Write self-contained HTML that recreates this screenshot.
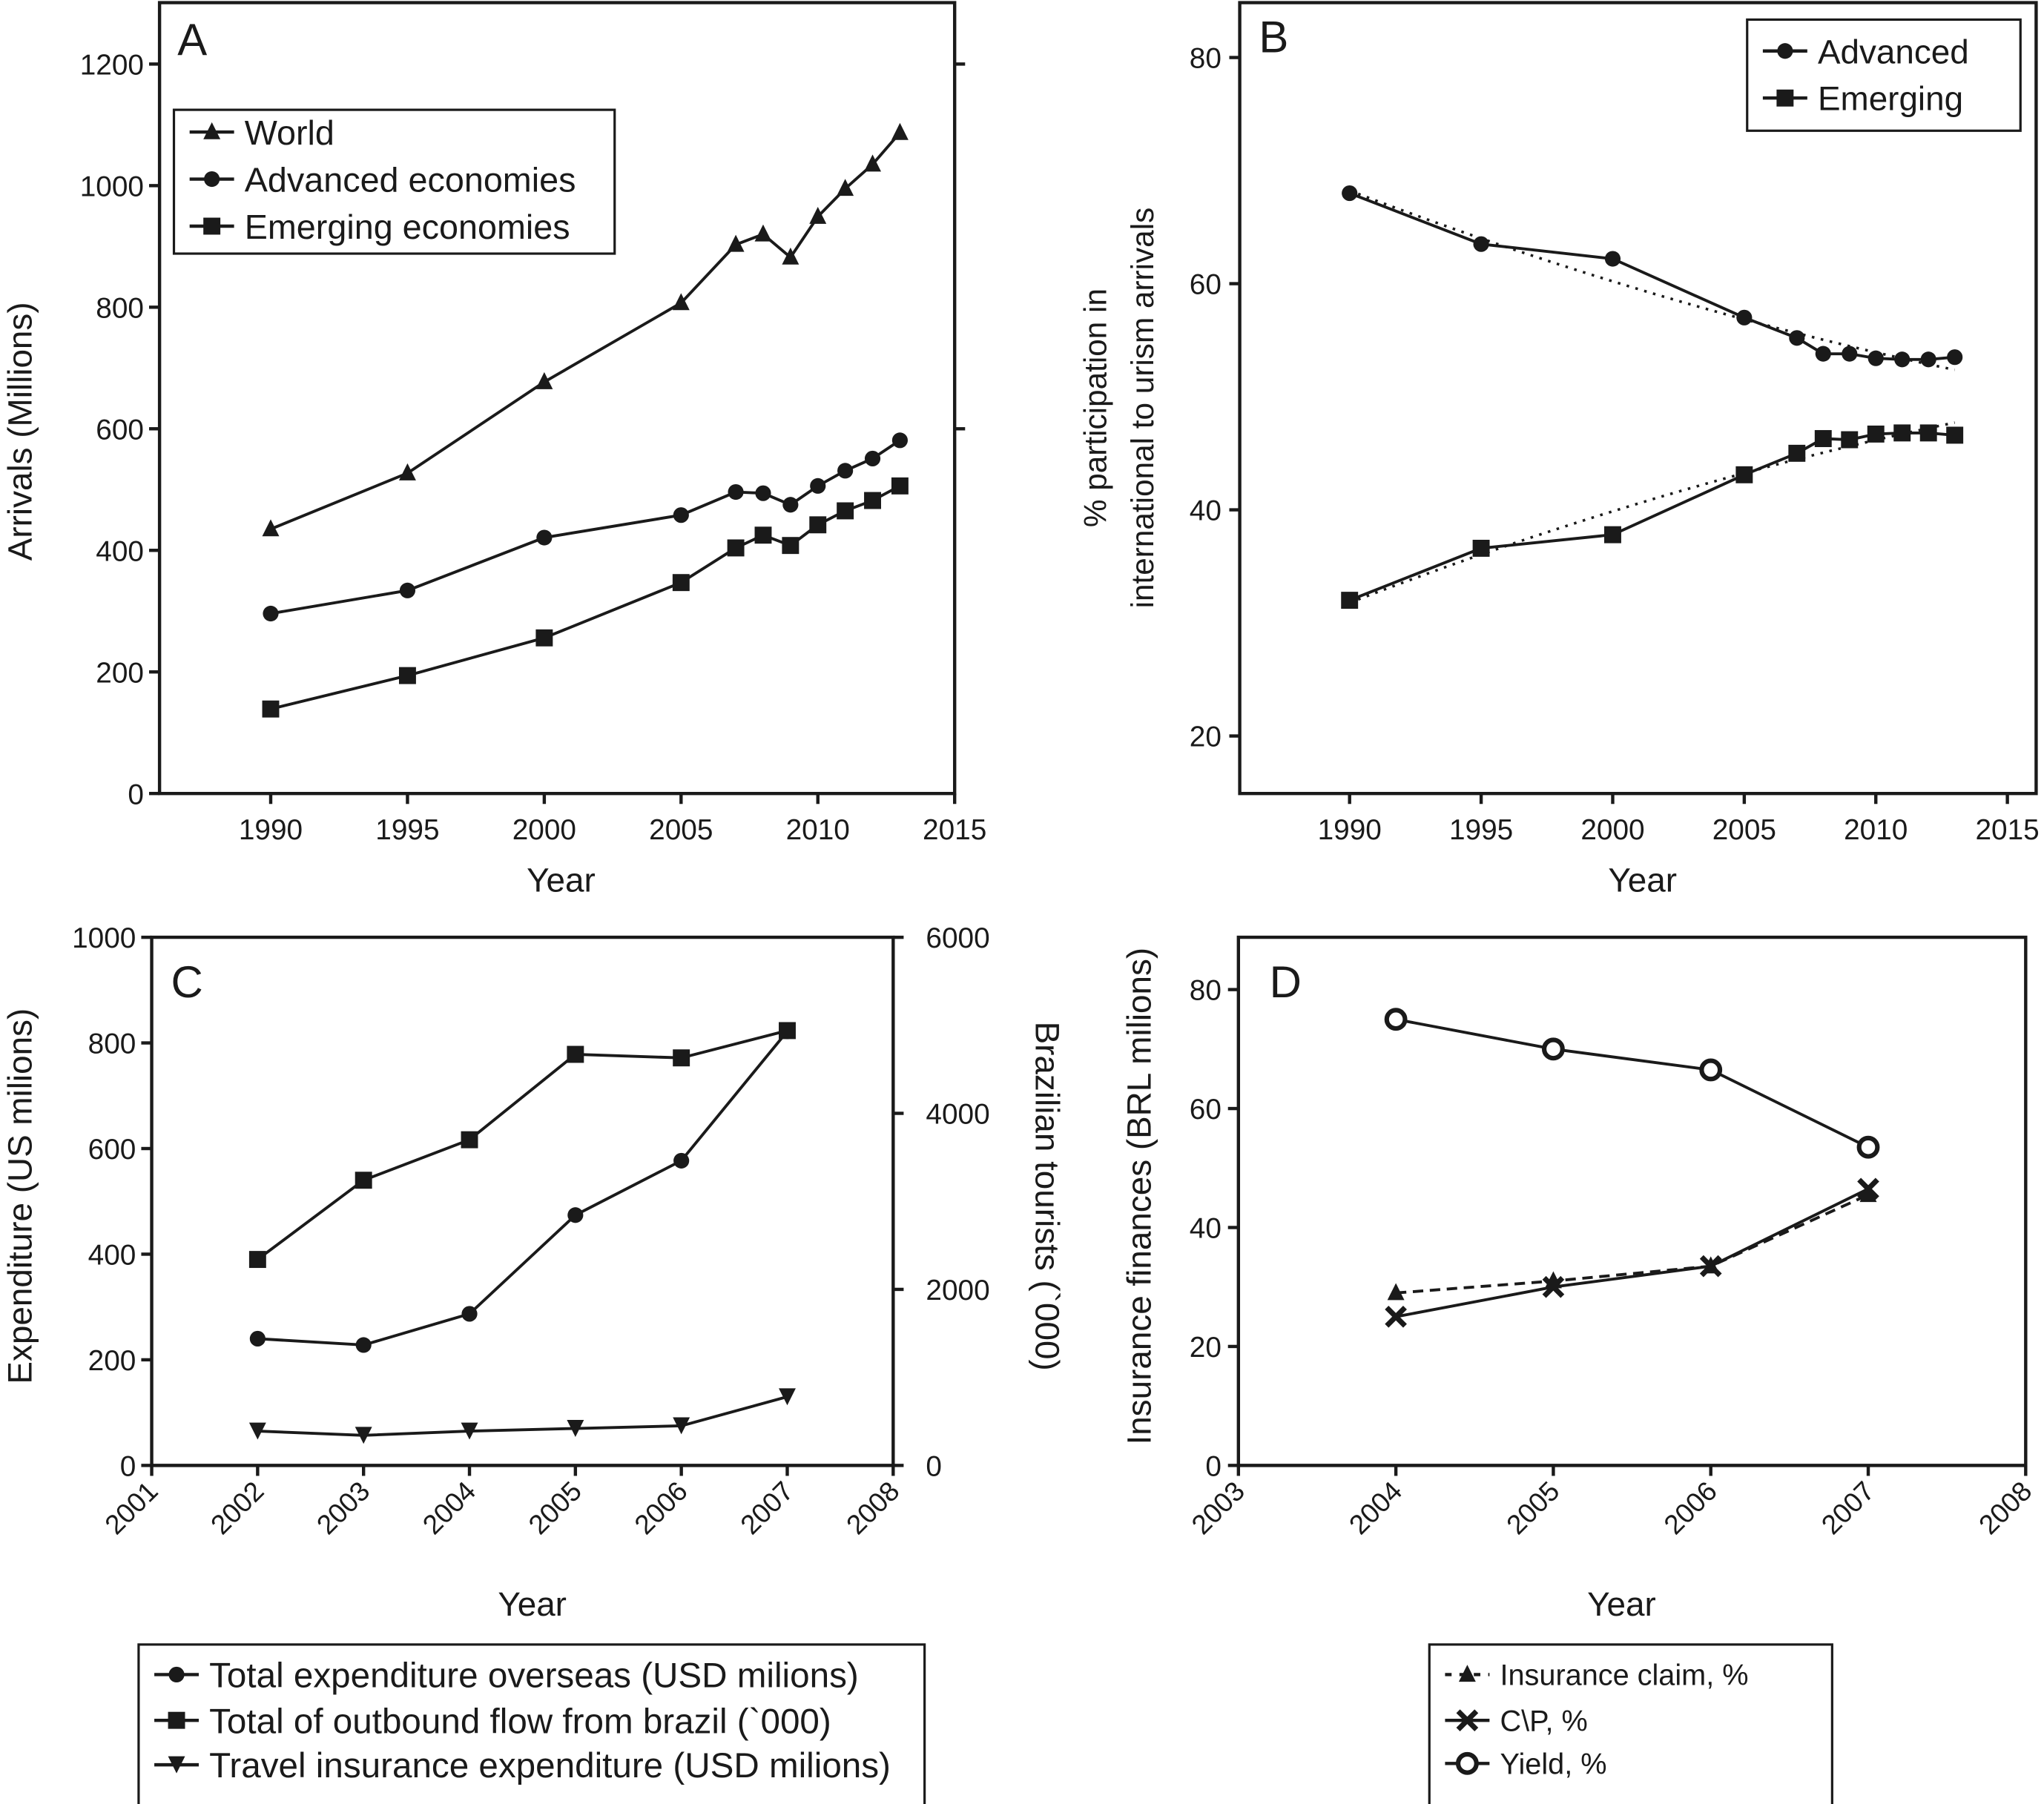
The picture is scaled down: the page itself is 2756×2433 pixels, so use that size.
<!DOCTYPE html>
<html><head><meta charset="utf-8"><style>
html,body{margin:0;padding:0;background:#fff;}
svg{display:block;font-family:"Liberation Sans",sans-serif;}
</style></head><body>
<svg id="fig" width="2756" height="2433" viewBox="0 0 1563 1380" preserveAspectRatio="none" xmlns="http://www.w3.org/2000/svg">
<g id="root" fill="none" stroke="#1a1a1a"></g>
</svg>
<script>
// Panel A data
const yearsA=[1990,1995,2000,2005,2007,2008,2009,2010,2011,2012,2013];
const worldA=[435,527,677,807,903,920,882,949,995,1035,1087];
const advA=[296,334,421,458,496,494,475,506,531,551,581];
const emgA=[139,194,256,347,404,425,408,442,465,482,506];
const ticksAy=[0,200,400,600,800,1000,1200];
const ticksAx=[1990,1995,2000,2005,2010,2015];
// Panel B data
const advB=[68,63.5,62.2,57,55.2,53.8,53.8,53.4,53.3,53.3,53.5];
const emgB=[32,36.6,37.8,43.1,45,46.3,46.2,46.7,46.8,46.8,46.6];
const ticksBy=[20,40,60,80];
// Panel C data
const yearsC=[2002,2003,2004,2005,2006,2007];
const expC=[240,228,287,474,577,822];
const flowC=[2340,3240,3700,4670,4630,4940];
const insC=[65,57,65,70,75,130];
const ticksCy=[0,200,400,600,800,1000];
const ticksCy2=[0,2000,4000,6000];
const ticksCx=[2001,2002,2003,2004,2005,2006,2007,2008];
// Panel D data
const yearsD=[2004,2005,2006,2007];
const claimD=[29,31,33.5,45.5];
const cpD=[25,30,33.5,46.5];
const yieldD=[75,70,66.5,53.5];
const ticksDy=[0,20,40,60,80];
const ticksDx=[2003,2004,2005,2006,2007,2008];

const NS="http://www.w3.org/2000/svg";
const root=document.getElementById('root');
function el(tag,attrs,parent,name){const e=document.createElementNS(NS,tag);for(const k in attrs)e.setAttribute(k,attrs[k]);


(parent||root).appendChild(e);return e;}
function txt(x,y,s,size,anchor,parent,name,rot){const t=el('text',{x:x,y:y,'font-size':size,'text-anchor':anchor||'middle',fill:'#1a1a1a',stroke:'none'},parent,name);
if(rot!==undefined)t.setAttribute('transform','rotate('+rot+' '+x+' '+y+')');t.textContent=s;return t;}
function lin(d0,d1,r0,r1){return v=>r0+(v-d0)*(r1-r0)/(d1-d0);}
function marker(type,x,y,g,name){
  const s=6.5;
  if(type==='tri')el('polygon',{points:`${x},${y-s-1} ${x-s},${y+s-1} ${x+s},${y+s-1}`,fill:'#1a1a1a',stroke:'none'},g,name);
  else if(type==='tridown')el('polygon',{points:`${x},${y+s} ${x-s},${y-s} ${x+s},${y-s}`,fill:'#1a1a1a',stroke:'none'},g,name);
  else if(type==='circ')el('circle',{cx:x,cy:y,r:6,fill:'#1a1a1a',stroke:'none'},g,name);
  else if(type==='sq')el('rect',{x:x-6.5,y:y-6.5,width:13,height:13,fill:'#1a1a1a',stroke:'none'},g,name);
  else if(type==='ring')el('circle',{cx:x,cy:y,r:7,fill:'#fff',stroke:'#1a1a1a','stroke-width':3.5},g,name);
  else if(type==='x'){el('path',{d:`M${x-7},${y-7}L${x+7},${y+7}M${x+7},${y-7}L${x-7},${y+7}`,stroke:'#1a1a1a','stroke-width':4},g,name);}
}
function series(xs,ys,sx,sy,type,name,dash){
  const g=el('g',{},root,name);
  el('polyline',{points:xs.map((x,i)=>sx(x)+','+sy(ys[i])).join(' '),stroke:'#1a1a1a','stroke-width':2.2,'stroke-dasharray':dash||'none'},g,name+'-line');
  xs.forEach((x,i)=>marker(type,sx(x),sy(ys[i]),g,name+'-point'));
}
function legend(x,y,w,h,items,size,name){
  const g=el('g',{},root,name);
  el('rect',{x:x,y:y,width:w,height:h,stroke:'#1a1a1a','stroke-width':1.8,fill:'#fff'},g,name+'-box');
  items.forEach((it,i)=>{const cy=it.y;
    el('line',{x1:x+12,y1:cy,x2:x+46,y2:cy,stroke:'#1a1a1a','stroke-width':2.5,'stroke-dasharray':it.dash||'none'},g,'legend-line');
    marker(it.m,x+29,cy,g,'legend-marker');
    txt(x+54,cy+size*0.36,it.t,size,'start',g,'legend-entry');});
}
function quadFit(xs,ys){
  const n=xs.length;const m=xs.reduce((a,b)=>a+b)/n;const u=xs.map(x=>x-m);
  let S=[0,0,0,0,0],T=[0,0,0];
  u.forEach((x,i)=>{for(let k=0;k<5;k++)S[k]+=Math.pow(x,k);for(let k=0;k<3;k++)T[k]+=ys[i]*Math.pow(x,k);});
  const A=[[S[0],S[1],S[2]],[S[1],S[2],S[3]],[S[2],S[3],S[4]]];
  const det=M=>M[0][0]*(M[1][1]*M[2][2]-M[1][2]*M[2][1])-M[0][1]*(M[1][0]*M[2][2]-M[1][2]*M[2][0])+M[0][2]*(M[1][0]*M[2][1]-M[1][1]*M[2][0]);
  const D=det(A);const c=[0,1,2].map(j=>det(A.map((r,i)=>r.map((v,k)=>k===j?T[i]:v)))/D);
  return x=>c[0]+c[1]*(x-m)+c[2]*(x-m)*(x-m);
}

// ---------- Panel A ----------
{const sx=lin(1990,2015,207,730), sy=lin(0,1200,607,49);
const g=el('g',{},root,'panel-a-axes');
el('path',{d:'M122,2 L730,2 L730,607 L122,607 Z',stroke:'#1a1a1a','stroke-width':2.5},g,'panel-a-frame');
ticksAy.forEach(v=>{el('line',{x1:114,y1:sy(v),x2:122,y2:sy(v),'stroke-width':2.5},g,'y-tick');txt(110,sy(v)+8,v,22,'end',g,'y-tick-label');});
[1200,600].forEach(v=>el('line',{x1:730,y1:sy(v),x2:738,y2:sy(v),'stroke-width':2.5},g,'right-tick'));
ticksAx.forEach(v=>{el('line',{x1:sx(v),y1:607,x2:sx(v),y2:615,'stroke-width':2.5},g,'x-tick');txt(sx(v),642,v,22,'middle',g,'x-tick-label');});
txt(429,682,'Year',26,'middle',g,'x-axis-title');
txt(24,330,'Arrivals (Millions)',26,'middle',g,'y-axis-title',-90);
txt(147,42,'A',34,'middle',g,'panel-a-label');
series(yearsA,worldA,sx,sy,'tri','series-world');
series(yearsA,advA,sx,sy,'circ','series-advanced');
series(yearsA,emgA,sx,sy,'sq','series-emerging');
legend(133,84,337,110,[{m:'tri',t:'World',y:101},{m:'circ',t:'Advanced economies',y:137},{m:'sq',t:'Emerging economies',y:173}],26.5,'legend-a');}

// ---------- Panel B ----------
{const sx=lin(1990,2015,1032,1535), sy=lin(20,80,563,44);
const g=el('g',{},root,'panel-b-axes');
el('path',{d:'M948,2 L1557,2 L1557,607 L948,607 Z',stroke:'#1a1a1a','stroke-width':2.5},g,'panel-b-frame');
ticksBy.forEach(v=>{el('line',{x1:940,y1:sy(v),x2:948,y2:sy(v),'stroke-width':2.5},g,'y-tick');txt(934,sy(v)+8,v,22,'end',g,'y-tick-label');});
ticksAx.forEach(v=>{el('line',{x1:sx(v),y1:607,x2:sx(v),y2:615,'stroke-width':2.5},g,'x-tick');txt(sx(v),642,v,22,'middle',g,'x-tick-label');});
txt(1256,682,'Year',26,'middle',g,'x-axis-title');
txt(846,312,'% participation in',24,'middle',g,'y-axis-title',-90);
txt(882,312,'international to urism arrivals',24,'middle',g,'y-axis-title-2',-90);
txt(974,40,'B',34,'middle',g,'panel-b-label');
[[advB,'trend-advanced'],[emgB,'trend-emerging']].forEach(([d,n])=>{const f=quadFit(yearsA,d);const pts=[];for(let x=1990;x<=2013.01;x+=0.5)pts.push(sx(x)+','+sy(f(x)));
el('polyline',{points:pts.join(' '),stroke:'#1a1a1a','stroke-width':2,'stroke-dasharray':'2,5'},root,n);});
series(yearsA,advB,sx,sy,'circ','series-advanced-b');
series(yearsA,emgB,sx,sy,'sq','series-emerging-b');
legend(1336,15,209,85,[{m:'circ',t:'Advanced',y:39},{m:'sq',t:'Emerging',y:75}],26,'legend-b');}

// ---------- Panel C ----------
{const sx=lin(2001,2008,116,683), sy=lin(0,1000,1121,717), sy2=lin(0,6000,1121,717);
const g=el('g',{},root,'panel-c-axes');
el('path',{d:'M116,717 L683,717 L683,1121 L116,1121 Z',stroke:'#1a1a1a','stroke-width':2.5},g,'panel-c-frame');
ticksCy.forEach(v=>{el('line',{x1:108,y1:sy(v),x2:116,y2:sy(v),'stroke-width':2.5},g,'y-tick');txt(104,sy(v)+8,v,22,'end',g,'y-tick-label');});
ticksCy2.forEach(v=>{el('line',{x1:683,y1:sy2(v),x2:691,y2:sy2(v),'stroke-width':2.5},g,'y2-tick');txt(708,sy2(v)+8,v,22,'start',g,'y2-tick-label');});
ticksCx.forEach(v=>{el('line',{x1:sx(v),y1:1121,x2:sx(v),y2:1129,'stroke-width':2.5},g,'x-tick');txt(sx(v)+6,1142,v,21,'end',g,'x-tick-label',-45);});
txt(407,1236,'Year',26,'middle',g,'x-axis-title');
txt(24,915,'Expenditure (US milions)',26,'middle',g,'y-axis-title',-90);
txt(792,915,'Brazilian tourists (`000)',26,'middle',g,'y2-axis-title',90);
txt(143,763,'C',34,'middle',g,'panel-c-label');
series(yearsC,expC,sx,sy,'circ','series-expenditure');
series(yearsC,flowC,sx,sy2,'sq','series-outbound-flow');
series(yearsC,insC,sx,sy,'tridown','series-insurance-expenditure');
legend(106,1258,601,125,[{m:'circ',t:'Total expenditure overseas (USD milions)',y:1281},{m:'sq',t:'Total of outbound flow from brazil (`000)',y:1316},{m:'tridown',t:'Travel insurance expenditure (USD milions)',y:1350}],27,'legend-c');}

// ---------- Panel D ----------
{const sx=lin(2003,2008,947,1549), sy=lin(0,80,1121,757);
const g=el('g',{},root,'panel-d-axes');
el('path',{d:'M947,717 L1549,717 L1549,1121 L947,1121 Z',stroke:'#1a1a1a','stroke-width':2.5},g,'panel-d-frame');
ticksDy.forEach(v=>{el('line',{x1:939,y1:sy(v),x2:947,y2:sy(v),'stroke-width':2.5},g,'y-tick');txt(934,sy(v)+8,v,22,'end',g,'y-tick-label');});
ticksDx.forEach(v=>{el('line',{x1:sx(v),y1:1121,x2:sx(v),y2:1129,'stroke-width':2.5},g,'x-tick');txt(sx(v)+6,1142,v,21,'end',g,'x-tick-label',-45);});
txt(1240,1236,'Year',26,'middle',g,'x-axis-title');
txt(880,915,'Insurance finances (BRL milions)',26,'middle',g,'y-axis-title',-90);
txt(983,763,'D',34,'middle',g,'panel-d-label');
series(yearsD,claimD,sx,sy,'tri','series-insurance-claim','8,5');
series(yearsD,cpD,sx,sy,'x','series-cp');
series(yearsD,yieldD,sx,sy,'ring','series-yield');
legend(1093,1258,308,125,[{m:'tri',t:'Insurance claim, %',y:1281,dash:'5,6'},{m:'x',t:'C\\P, %',y:1316},{m:'ring',t:'Yield, %',y:1349}],22.5,'legend-d');}
</script>
</body></html>
